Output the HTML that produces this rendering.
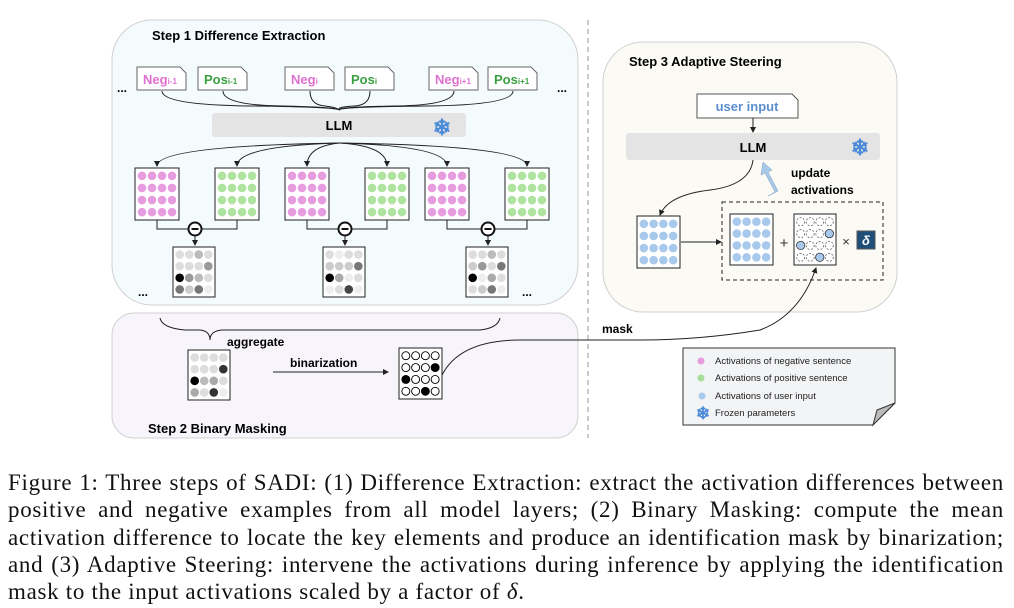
<!DOCTYPE html>
<html><head><meta charset="utf-8"><style>
html,body{margin:0;padding:0;background:#fff;width:1014px;height:608px;overflow:hidden;position:relative}
svg{position:absolute;left:0;top:0}
#cap{position:absolute;left:8px;top:469px;width:996px;font-family:"Liberation Serif",serif;font-size:23px;letter-spacing:0.7px;line-height:27.3px;color:#111}
#cap div{text-align:justify;text-align-last:justify;white-space:nowrap}
#cap div.l{text-align-last:left}
.s text{font-family:"Liberation Sans",sans-serif}
</style></head><body>
<svg id="sv" class="s" width="1014" height="460" viewBox="0 0 1014 460">
<defs><marker id="ar" markerWidth="6" markerHeight="6" refX="5" refY="3" orient="auto"><path d="M0,0 L6,3 L0,6 z" fill="#222"/></marker></defs>
<rect x="112" y="20" width="466" height="285" rx="40" fill="#f3fbfc" stroke="#d0d0d0"/>
<rect x="112" y="313" width="466" height="125" rx="22" fill="#f7f4fb" stroke="#d0d0d0"/>
<line x1="588" y1="20" x2="588" y2="438" stroke="#999" stroke-dasharray="5,4"/>
<rect x="603" y="42" width="294" height="270" rx="40" fill="#fbfaf5" stroke="#d0d0d0"/>
<text x="152" y="40" font-size="13" font-weight="bold">Step 1 Difference Extraction</text>
<text x="629" y="66" font-size="13" font-weight="bold">Step 3 Adaptive Steering</text>
<text x="148" y="433" font-size="13" font-weight="bold">Step 2 Binary Masking</text>
<g id="docs"></g>
<text x="117" y="92" font-size="12" font-weight="bold">...</text>
<text x="557" y="92" font-size="12" font-weight="bold">...</text>
<rect x="212" y="113" width="254" height="24" rx="3" fill="#e4e4e4"/>
<text x="339" y="130" font-size="13" font-weight="bold" text-anchor="middle">LLM</text>
<text x="442" y="135" font-size="22" font-weight="bold" fill="#4a8ad8" text-anchor="middle">❄</text>
<g id="conv" fill="none" stroke="#222" stroke-width="1"></g>
<g id="grids"></g>
<text x="138" y="296" font-size="12" font-weight="bold">...</text>
<text x="522" y="296" font-size="12" font-weight="bold">...</text>
<path d="M160,318 Q162,328 185,330 L200,330 Q210,331 210,340 Q210,331 222,330 L480,330 Q498,328 500,318" fill="none" stroke="#222"/>
<text x="227" y="346" font-size="12" font-weight="bold">aggregate</text>
<text x="290" y="367" font-size="12" font-weight="bold">binarization</text>
<line x1="273" y1="372" x2="388" y2="372" stroke="#222" marker-end="url(#ar)"/>
<path d="M442,375 Q460,340 520,340 L640,340 Q700,340 760,330 Q800,315 816,268" fill="none" stroke="#222" marker-end="url(#ar)"/>
<text x="602" y="333" font-size="12" font-weight="bold">mask</text>
<path d="M697,94 L792,94 L798,100 L798,118 L697,118 Z" fill="#fff" stroke="#555"/>
<text x="747" y="111" font-size="13" font-weight="bold" fill="#5b8ed0" text-anchor="middle">user input</text>
<line x1="753" y1="118" x2="753" y2="132" stroke="#222" marker-end="url(#ar)"/>
<rect x="626" y="133" width="254" height="27" rx="3" fill="#e4e4e4"/>
<text x="753" y="152" font-size="13" font-weight="bold" text-anchor="middle">LLM</text>
<text x="860" y="155" font-size="22" font-weight="bold" fill="#4a8ad8" text-anchor="middle">❄</text>
<path d="M753,160 Q750,185 710,190 Q668,195 660,215" fill="none" stroke="#222" marker-end="url(#ar)"/>
<path d="M768,196 L778,191 L768,172 L772,170 L763,162 L761,175 L765,173 L775,192 Z" fill="#a8c8e8" stroke="#7aa2cc" stroke-width="0.5"/>
<text x="791" y="177" font-size="12" font-weight="bold">update</text>
<text x="791" y="194" font-size="12" font-weight="bold">activations</text>
<line x1="681" y1="242" x2="721" y2="242" stroke="#222" marker-end="url(#ar)"/>
<rect x="722" y="202" width="161" height="78" fill="none" stroke="#222" stroke-dasharray="4,3"/>
<text x="784" y="248" font-size="15" fill="#333" text-anchor="middle">+</text>
<text x="846" y="246" font-size="13" fill="#333" text-anchor="middle">×</text>
<rect x="857" y="231" width="18" height="18" fill="#1f4e79" stroke="#555"/>
<text x="866" y="245" font-size="13" font-weight="bold" font-style="italic" fill="#fff" text-anchor="middle" font-family="Liberation Serif">δ</text>
<path d="M683,348 L895,348 L895,403 L873,425 L683,425 Z" fill="#f3f4f6" stroke="#333"/>
<path d="M873,425 L877,410 L895,403 Z" fill="#bbb" stroke="#333"/>
<circle cx="701" cy="361" r="3.5" fill="#e79ce0"/>
<circle cx="701" cy="378" r="3.5" fill="#a8dd9a"/>
<circle cx="702" cy="396" r="3.5" fill="#a9c9ec"/>
<text x="703" y="419" font-size="17" font-weight="bold" fill="#4a8ad8" text-anchor="middle">❄</text>
<g font-size="9.5" fill="#222"><text x="715" y="364">Activations of negative sentence</text><text x="715" y="381">Activations of positive sentence</text><text x="715" y="399">Activations of user input</text><text x="715" y="416">Frozen parameters</text></g>
</svg>
<div id="cap"><div>Figure 1: Three steps of SADI: (1) Difference Extraction: extract the activation differences between</div><div>positive and negative examples from all model layers; (2) Binary Masking: compute the mean</div><div>activation difference to locate the key elements and produce an identification mask by binarization;</div><div>and (3) Adaptive Steering: intervene the activations during inference by applying the identification</div><div class="l">mask to the input activations scaled by a factor of <i>δ</i>.</div></div>
<script>
var NS="http://www.w3.org/2000/svg";
function el(p,t,a,txt){var e=document.createElementNS(NS,t);for(var k in a)e.setAttribute(k,a[k]);if(txt)e.textContent=txt;p.appendChild(e);return e;}
var sv=document.getElementById('sv');
var docs=document.getElementById('docs');
var D=[[137,'Neg','i-1','#e070d0'],[198,'Pos','i-1','#3aa040'],[285,'Neg','i','#e070d0'],[345,'Pos','i','#3aa040'],[429,'Neg','i+1','#e070d0'],[488,'Pos','i+1','#3aa040']];
var conv=document.getElementById('conv');
D.forEach(function(d){var x=d[0];
el(docs,'path',{d:'M'+x+',67 L'+(x+43)+',67 L'+(x+49)+',73 L'+(x+49)+',90 L'+x+',90 Z',fill:'#fff',stroke:'#666'});
var t=el(docs,'text',{x:x+6,y:84,'font-size':13,'font-weight':'bold',fill:d[3]},d[1]);
el(t,'tspan',{'font-size':8},d[2]);
el(conv,'path',{d:'M'+(x+25)+',91 Q'+(x+25)+',105 '+((x+25+340)/2)+',106 Q335,107 340,110'});
});
function grid(x,y,w,h,colors,type){
 el(sv,'rect',{x:x,y:y,width:w,height:h,fill:'#fff',stroke:'#222'});
 var sx=w/4.4,sy=h/4.3;
 for(var r=0;r<4;r++)for(var c=0;c<4;c++){
  var cx=x+sx*(c+0.7),cy=y+sy*(r+0.65),col=colors[r*4+c];
  if(type=='bin')el(sv,'circle',{cx:cx,cy:cy,r:4,fill:col,stroke:'#000','stroke-width':0.9});
  else if(type=='mask'){if(col=='x')el(sv,'circle',{cx:cx,cy:cy,r:4,fill:'none',stroke:'#666','stroke-dasharray':'2,1.5','stroke-width':0.8});else el(sv,'circle',{cx:cx,cy:cy,r:4.2,fill:'#a9c9ec',stroke:'#333','stroke-width':0.8});}
  else el(sv,'circle',{cx:cx,cy:cy,r:4.3,fill:col});
 }}
function fill(c){var a=[];for(var i=0;i<16;i++)a.push(c);return a;}
var pink='#e79ce0',green='#aee3a0',blue='#a9c9ec';
var GX=[[135,pink],[215,green],[285,pink],[365,green],[425,pink],[505,green]];
GX.forEach(function(g){grid(g[0],168,44,52,fill(g[1]));
 el(conv,'path',{d:'M340,143 Q'+(g[0]+22)+',146 '+(g[0]+22)+',166','marker-end':'url(#ar)'});});
var pairs=[[157,237,195],[307,387,345],[447,527,488]];
var diffs=[
['#ddd','#ddd','#bbb','#ddd','#ddd','#ddd','#ddd','#999','#000','#999','#bbb','#ddd','#777','#ccc','#777','#eee'],
['#ddd','#eee','#ddd','#ddd','#ccc','#ccc','#ccc','#777','#000','#aaa','#eee','#ddd','#eee','#ddd','#444','#eee'],
['#ddd','#ddd','#bbb','#ddd','#ccc','#999','#ddd','#777','#000','#eee','#aaa','#ddd','#ddd','#ccc','#777','#eee']];
pairs.forEach(function(p,i){
 el(sv,'path',{d:'M'+p[0]+',220 L'+p[0]+',229 L'+p[1]+',229 L'+p[1]+',220',fill:'none',stroke:'#222'});
 el(sv,'circle',{cx:p[2],cy:229,r:6.5,fill:'#fff',stroke:'#111','stroke-width':2});
 el(sv,'line',{x1:p[2]-3.5,y1:229,x2:p[2]+3.5,y2:229,stroke:'#111','stroke-width':2});
 el(sv,'line',{x1:p[2],y1:236,x2:p[2],y2:245,stroke:'#222','marker-end':'url(#ar)'});
 grid(p[2]-22,247,42,50,diffs[i]);
});
grid(188,350,42,50,['#ddd','#ddd','#ddd','#ddd','#ddd','#ddd','#ddd','#333','#000','#bbb','#aaa','#ddd','#aaa','#ddd','#333','#eee']);
var b=fill('#fff');b[7]='#000';b[8]='#000';b[14]='#000';
grid(399,348,43,51,b,'bin');
grid(637,216,43,52,fill(blue));
grid(730,214,43,51,fill(blue));
var m=fill('x');m[7]='b';m[8]='b';m[14]='b';
grid(794,214,42,51,m,'mask');
</script>
</body></html>
